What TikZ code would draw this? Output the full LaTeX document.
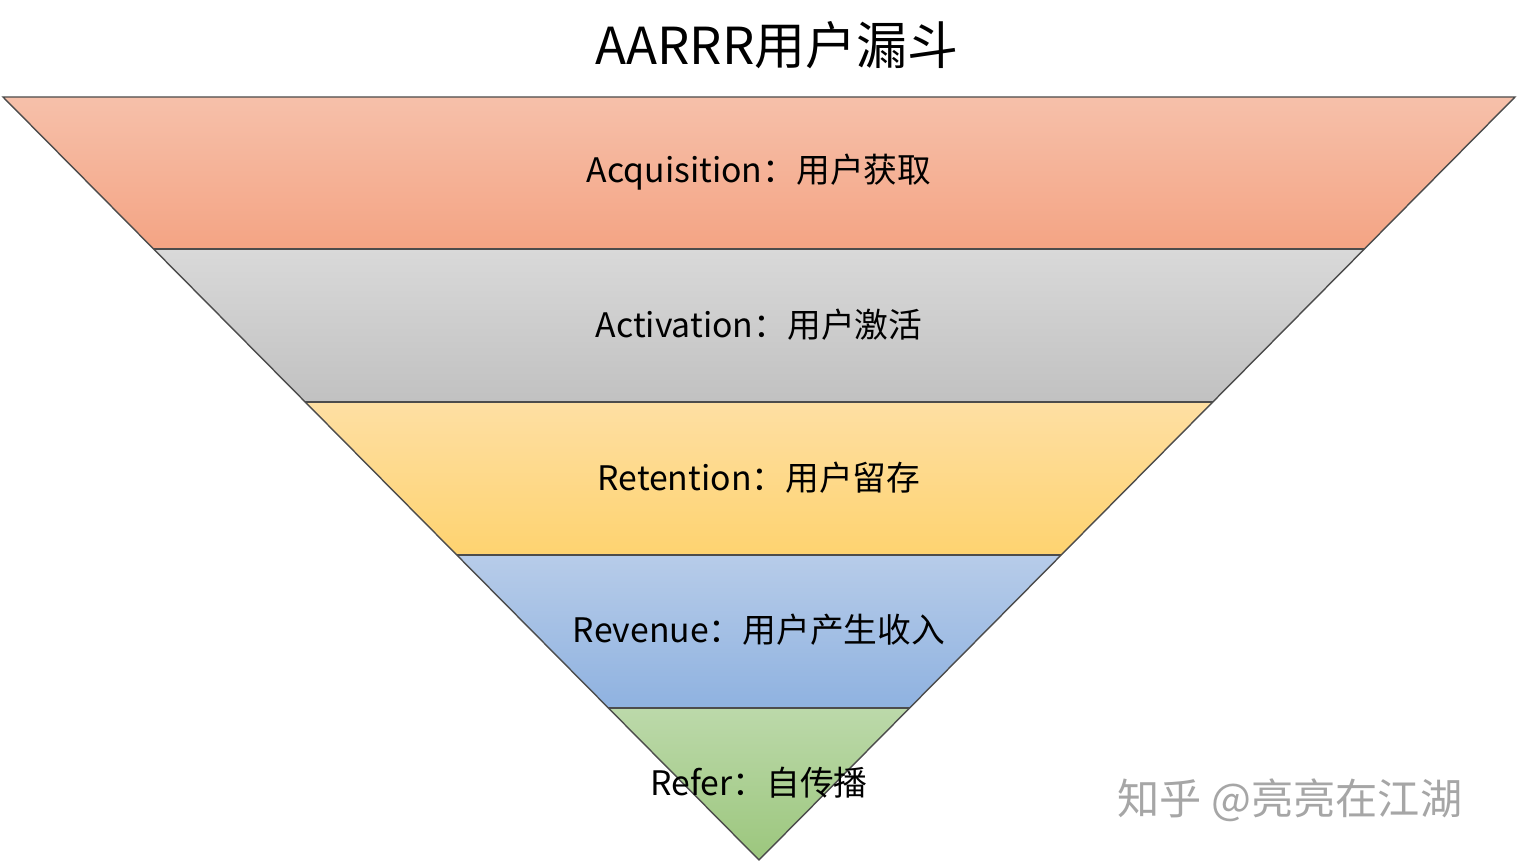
\documentclass[tikz,border=0pt]{standalone}
\usepackage{fontspec}
\setmainfont{Noto Sans CJK SC}
\begin{document}
\begin{tikzpicture}[x=0.01cm,y=-0.01cm,
  lbl/.style={font=\fontsize{9.6pt}{11pt}\selectfont, text=black},
  band/.style={draw=black!70, line width=0.4pt}]
\useasboundingbox (0,0) rectangle (1517,864);
\fill[white] (0,0) rectangle (1517,864);
\coordinate (TL) at (3,97); \coordinate (TR) at (1515,97); \coordinate (AP) at (759,860);
\begin{scope}
\clip (TL) -- (TR) -- (AP) -- cycle;
\shade[top color={rgb,255:red,246;green,192;blue,170}, bottom color={rgb,255:red,244;green,164;blue,132}] (0,97) rectangle (1517,249);
\shade[top color={rgb,255:red,217;green,217;blue,217}, bottom color={rgb,255:red,193;green,193;blue,193}] (0,249) rectangle (1517,402);
\shade[top color={rgb,255:red,254;green,223;blue,163}, bottom color={rgb,255:red,254;green,211;blue,112}] (0,402) rectangle (1517,555);
\shade[top color={rgb,255:red,183;green,204;blue,233}, bottom color={rgb,255:red,143;green,178;blue,224}] (0,555) rectangle (1517,708);
\shade[top color={rgb,255:red,188;green,217;blue,170}, bottom color={rgb,255:red,155;green,198;blue,124}] (0,708) rectangle (1517,864);
\foreach \y in {249,402,555,708} \draw[band] (0,\y) -- (1517,\y);
\end{scope}
\draw[band] (TL) -- (TR) -- (AP) -- cycle;
\node[font=\fontsize{14.5pt}{16pt}\selectfont] (title) at (777,45) {AARRR用户漏斗};
\node[lbl] (a1) at (759,172) {Acquisition：用户获取};
\node[lbl] (a2) at (759,325) {Activation：用户激活};
\node[lbl] (a3) at (759,478) {Retention：用户留存};
\node[lbl] (a4) at (759,630) {Revenue：用户产生收入};
\node[lbl] (a5) at (759,783) {Refer：自传播};
\node[font=\fontsize{12pt}{14pt}\selectfont, text=black!35] (wm) at (1290,800) {知乎 @亮亮在江湖};
\end{tikzpicture}
\end{document}
